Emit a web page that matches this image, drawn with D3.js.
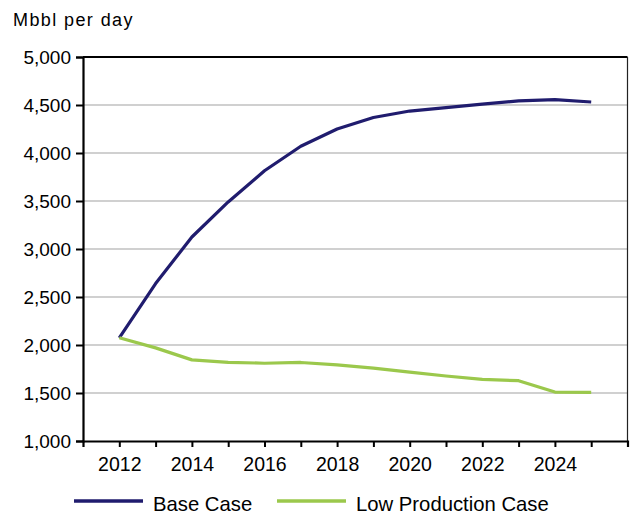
<!DOCTYPE html>
<html>
<head>
<meta charset="utf-8">
<script src="https://cdn.jsdelivr.net/npm/d3@7"></script>
<style>
  html, body { margin: 0; padding: 0; background: #fff; }
  svg { display: block; font-family: "Liberation Sans", Arial, sans-serif; }
</style>
</head>
<body>
<svg id="chart" width="632" height="516"></svg>
<script>
const years = [2012, 2013, 2014, 2015, 2016, 2017, 2018, 2019, 2020, 2021, 2022, 2023, 2024, 2025];
const baseCase = [2075, 2640, 3125, 3490, 3815, 4070, 4250, 4370, 4437, 4473, 4510, 4542, 4556, 4531];
const lowProductionCase = [2075, 1970, 1845, 1820, 1810, 1818, 1792, 1760, 1718, 1677, 1642, 1628, 1510, 1507];
const seriesNames = ["Base Case", "Low Production Case"];
const seriesColors = ["#201c6e", "#9bc84c"];
const yTicks = [1000, 1500, 2000, 2500, 3000, 3500, 4000, 4500, 5000];
const xLabelYears = [2012, 2014, 2016, 2018, 2020, 2022, 2024];
const yTitle = "Mbbl per day";

const svg = d3.select("#chart");
const pLeft = 83, pRight = 627.5, pTop = 57, pBottom = 441;

const x = d3.scaleLinear().domain([2011, 2026]).range([pLeft, pRight]);
const y = d3.scaleLinear().domain([1000, 5000]).range([pBottom, pTop]);

// gridlines
svg.append("g").selectAll("line").data(yTicks.slice(1, -1)).join("line")
  .attr("x1", pLeft).attr("x2", pRight)
  .attr("y1", d => y(d)).attr("y2", d => y(d))
  .attr("stroke", "#c0c0c0").attr("stroke-width", 1.5);

// frame top and right
svg.append("line").attr("x1", pLeft).attr("x2", pRight).attr("y1", pTop).attr("y2", pTop)
  .attr("stroke", "#000").attr("stroke-width", 2);
svg.append("line").attr("x1", pRight).attr("x2", pRight).attr("y1", pTop).attr("y2", pBottom)
  .attr("stroke", "#222").attr("stroke-width", 1.2);

// y axis
const yAxis = d3.axisLeft(y).tickValues(yTicks).tickSize(7).tickPadding(5)
  .tickFormat(d3.format(","));
const gy = svg.append("g").attr("transform", `translate(${pLeft},0)`).call(yAxis);
gy.select(".domain").attr("stroke", "#000").attr("stroke-width", 2.2);
gy.selectAll(".tick line").attr("stroke", "#000").attr("stroke-width", 2);
gy.selectAll(".tick text").attr("font-size", 19).attr("fill", "#000")
  .attr("font-family", "Liberation Sans, Arial, sans-serif").attr("x", -12);

// x axis
const xAxis = d3.axisBottom(x).tickValues(d3.range(2012, 2027)).tickSize(6).tickPadding(10)
  .tickFormat(d => xLabelYears.includes(d) ? String(d) : "");
const gx = svg.append("g").attr("transform", `translate(0,${pBottom})`).call(xAxis);
gx.select(".domain").attr("stroke", "#000").attr("stroke-width", 2.2);
gx.selectAll(".tick line").attr("stroke", "#000").attr("stroke-width", 2);
gx.selectAll(".tick text").attr("font-size", 19.5).attr("fill", "#000")
  .attr("font-family", "Liberation Sans, Arial, sans-serif");

// lines
const line = d3.line().x((d, i) => x(years[i])).y(d => y(d));
[baseCase, lowProductionCase].forEach((vals, k) => {
  svg.append("path").datum(vals)
    .attr("d", line)
    .attr("fill", "none")
    .attr("stroke", seriesColors[k])
    .attr("stroke-width", 3.2)
    .attr("stroke-linejoin", "round");
});

// y title
svg.append("text").attr("x", 13).attr("y", 26).attr("font-size", 18)
  .attr("letter-spacing", 1.4).attr("fill", "#000").text(yTitle);

// legend
const legendItems = [
  { name: seriesNames[0], color: seriesColors[0], x1: 74, x2: 143, tx: 153 },
  { name: seriesNames[1], color: seriesColors[1], x1: 277, x2: 346, tx: 356 }
];
const lg = svg.append("g");
legendItems.forEach(it => {
  lg.append("line").attr("x1", it.x1).attr("x2", it.x2).attr("y1", 501).attr("y2", 501)
    .attr("stroke", it.color).attr("stroke-width", 3.5);
  lg.append("text").attr("x", it.tx).attr("y", 511).attr("font-size", 20.3)
    .attr("fill", "#000").text(it.name);
});
</script>
</body>
</html>
